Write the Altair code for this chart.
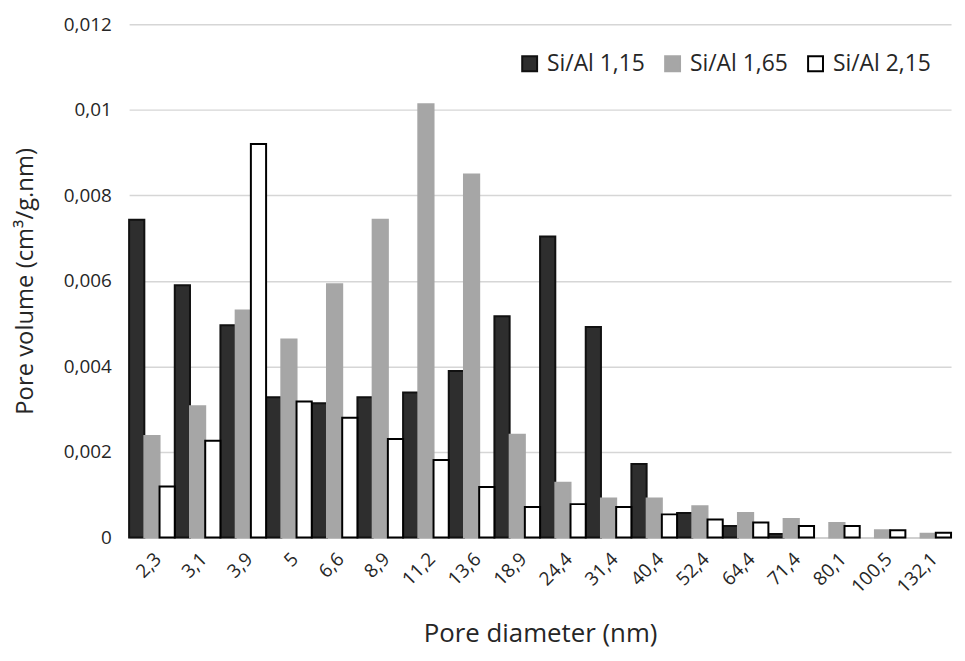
import altair as alt
import pandas as pd

categories = ["2,3", "3,1", "3,9", "5", "6,6", "8,9", "11,2", "13,6", "18,9", "24,4",
              "31,4", "40,4", "52,4", "64,4", "71,4", "80,1", "100,5", "132,1"]
series = ["Si/Al 1,15", "Si/Al 1,65", "Si/Al 2,15"]
s115 = [0.00743, 0.00590, 0.00496, 0.00328, 0.00314, 0.00328, 0.00339, 0.00389, 0.00517,
        0.00704, 0.00492, 0.00172, 0.00057, 0.00027, 0.00008, 0.0, 0.0, 0.0]
s165 = [0.00237, 0.00307, 0.00531, 0.00463, 0.00592, 0.00743, 0.01013, 0.00849, 0.00240,
        0.00128, 0.00091, 0.00091, 0.00073, 0.00057, 0.00043, 0.00034, 0.00017, 0.00009]
s215 = [0.00119, 0.00226, 0.00920, 0.00318, 0.00280, 0.00230, 0.00181, 0.00118, 0.00071,
        0.00078, 0.00071, 0.00054, 0.00042, 0.00035, 0.00027, 0.00027, 0.00017, 0.00011]
y_ticks = [0, 0.002, 0.004, 0.006, 0.008, 0.01, 0.012]

rows = []
for name, vals in zip(series, [s115, s165, s215]):
    for c, v in zip(categories, vals):
        rows.append({"d": c, "s": name, "v": v})
df = pd.DataFrame(rows)

FONT = "Open Sans"
TXT = "#262626"

legend = alt.Legend(title=None, orient="none", direction="horizontal",
                    legendX=392, legendY=28, padding=0, symbolType="square",
                    symbolSize=225, labelFontSize=23, labelFont=FONT,
                    labelColor=TXT, columnPadding=16, labelOffset=6,
                    symbolStrokeWidth=2)

chart = alt.Chart(df).transform_filter("datum.v > 0").mark_bar(strokeWidth=2).encode(
    x=alt.X("d:N", sort=categories, title="Pore diameter (nm)",
            scale=alt.Scale(paddingInner=0, paddingOuter=0),
            axis=alt.Axis(labelAngle=-45, labelFontSize=19, labelFont=FONT, labelColor=TXT,
                          ticks=False, domainColor="#d0d0d0", domainWidth=2,
                          labelPadding=12, titleFontSize=26, titleFont=FONT,
                          titleColor=TXT, titleFontWeight="normal", titlePadding=24,
                          grid=False)),
    xOffset=alt.XOffset("s:N", scale=alt.Scale(domain=series)),
    y=alt.Y("v:Q", title="Pore volume (cm³/g.nm)",
            scale=alt.Scale(domain=[0, 0.012], nice=False),
            axis=alt.Axis(values=y_ticks, labelExpr="replace(toString(datum.value), '.', ',')",
                          domain=False, ticks=False, gridColor="#d6d6d6", gridWidth=1.5,
                          labelFontSize=19, labelFont=FONT, labelColor=TXT, labelPadding=18,
                          titleFontSize=24, titleFont=FONT, titleColor=TXT,
                          titleFontWeight="normal", titlePadding=26)),
    fill=alt.Fill("s:N", scale=alt.Scale(domain=series, range=["#2e2e2e", "#a6a6a6", "#ffffff"]),
                  legend=legend),
    stroke=alt.Stroke("s:N", scale=alt.Scale(domain=series, range=["#111111", "#a6a6a6", "#000000"]),
                      legend=legend),
).properties(width=828, height=517).configure(background="white").configure_view(stroke=None, strokeWidth=0)

chart.save("out.html", embed_options={"renderer": "svg", "actions": False})
